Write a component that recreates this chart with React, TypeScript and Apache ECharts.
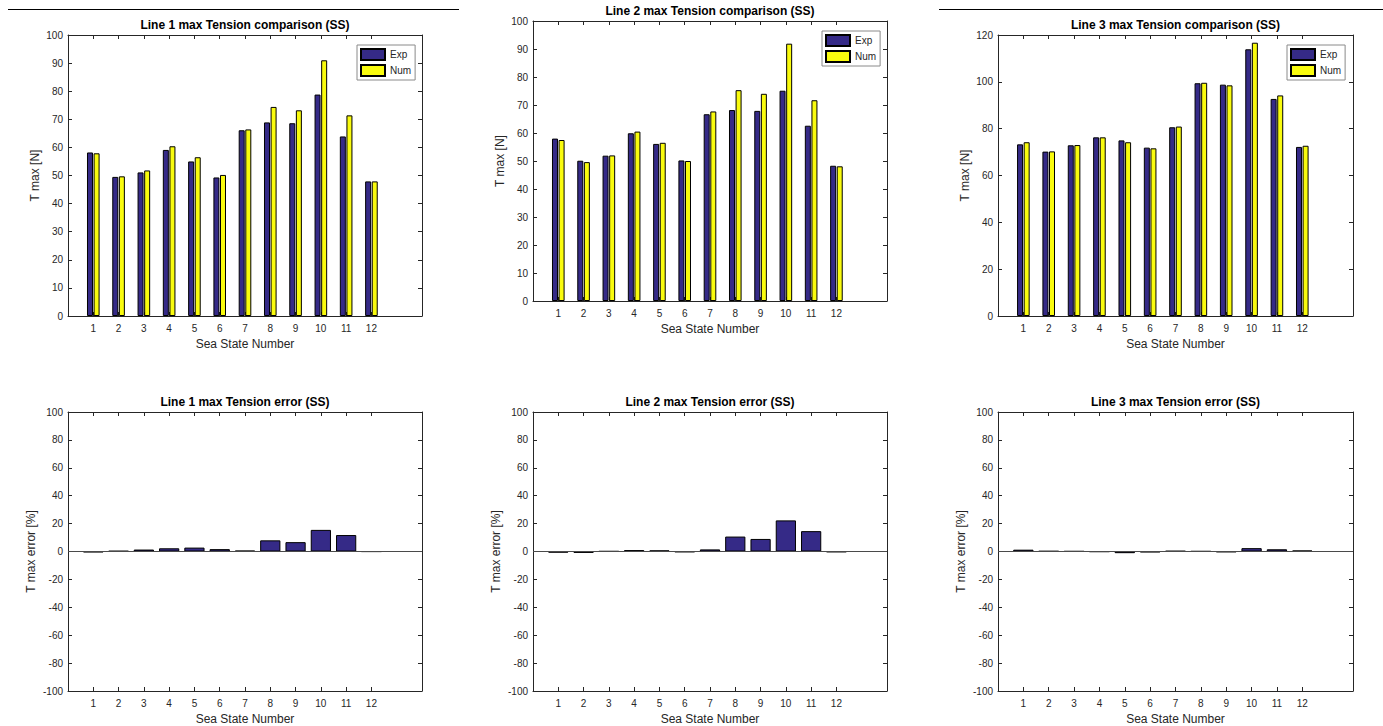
import React, { useEffect, useRef } from "react";
import * as echarts from "echarts";

// ---- data ----
const seaStates = [1, 2, 3, 4, 5, 6, 7, 8, 9, 10, 11, 12];
const seriesNames = ["Exp", "Num"];

const line1Exp = [58.2, 49.5, 51.1, 59.1, 55.0, 49.3, 66.1, 68.9, 68.6, 78.8, 63.9, 47.9];
const line1Num = [57.9, 49.7, 51.8, 60.4, 56.5, 50.2, 66.4, 74.4, 73.2, 91.0, 71.4, 47.9];
const line2Exp = [58.0, 50.1, 51.9, 59.9, 56.1, 50.2, 66.7, 68.2, 67.9, 75.1, 62.6, 48.3];
const line2Num = [57.5, 49.6, 52.0, 60.5, 56.5, 50.0, 67.7, 75.3, 74.0, 91.9, 71.7, 48.1];
const line3Exp = [73.3, 70.2, 72.9, 76.3, 75.0, 71.9, 80.6, 99.4, 98.8, 113.9, 92.7, 72.2];
const line3Num = [74.2, 70.3, 73.0, 76.3, 74.2, 71.6, 80.9, 99.6, 98.5, 116.7, 94.2, 72.7];

const line1Err = [-0.5, 0.4, 1.4, 2.3, 2.8, 1.7, 0.6, 8.0, 6.7, 15.5, 11.8, -0.1];
const line2Err = [-0.8, -1.0, 0.2, 1.0, 0.8, -0.4, 1.5, 10.7, 9.0, 22.3, 14.6, -0.4];
const line3Err = [1.3, 0.3, 0.2, -0.2, -1.2, -0.5, 0.4, 0.2, -0.4, 2.4, 1.6, 0.7];

const cmpTitles = [
  "Line 1 max Tension comparison (SS)",
  "Line 2 max Tension comparison (SS)",
  "Line 3 max Tension comparison (SS)",
];
const errTitles = [
  "Line 1 max Tension error (SS)",
  "Line 2 max Tension error (SS)",
  "Line 3 max Tension error (SS)",
];
const xTitle = "Sea State Number";
const cmpYTitle = "T max [N]";
const errYTitle = "T max error [%]";

const COL_EXP = "#352A87";
const COL_NUM = "#F9FB0E";
const FONT = '"Liberation Sans", Arial, Helvetica, sans-serif';
const AX = "#262626";

function buildOption() {
  const categories = ["", ...seaStates.map(String), "", ""];
  const shown = (i: number) => i >= 1 && i <= seaStates.length;
  const pairs = (vals: number[]) => vals.map((v, i) => [i + 1, v]);

  const panels = [
    { left: 68, top: 35, width: 354, height: 281, min: 0, max: 100, interval: 10, kind: "cmp", title: cmpTitles[0], titleY: 25, exp: line1Exp, num: line1Num, legend: { left: 357, top: 45 } },
    { left: 533, top: 21, width: 354, height: 280, min: 0, max: 100, interval: 10, kind: "cmp", title: cmpTitles[1], titleY: 11, exp: line2Exp, num: line2Num, legend: { left: 822, top: 31 } },
    { left: 998, top: 35, width: 355, height: 281, min: 0, max: 120, interval: 20, kind: "cmp", title: cmpTitles[2], titleY: 25, exp: line3Exp, num: line3Num, legend: { left: 1287, top: 45 } },
    { left: 68, top: 412, width: 354, height: 280, min: -100, max: 100, interval: 20, kind: "err", title: errTitles[0], titleY: 402, err: line1Err },
    { left: 533, top: 412, width: 354, height: 280, min: -100, max: 100, interval: 20, kind: "err", title: errTitles[1], titleY: 402, err: line2Err },
    { left: 998, top: 412, width: 355, height: 280, min: -100, max: 100, interval: 20, kind: "err", title: errTitles[2], titleY: 402, err: line3Err },
  ];

  const grid: any[] = [];
  const xAxis: any[] = [];
  const yAxis: any[] = [];
  const series: any[] = [];
  const legend: any[] = [];
  const graphic: any[] = [
    { type: "line", shape: { x1: 8, y1: 9.5, x2: 459, y2: 9.5 }, style: { stroke: "#000", lineWidth: 1.2 } },
    { type: "line", shape: { x1: 939, y1: 9.5, x2: 1383, y2: 9.5 }, style: { stroke: "#000", lineWidth: 1.2 } },
  ];

  panels.forEach((p: any, k) => {
    grid.push({ left: p.left, top: p.top, width: p.width, height: p.height, containLabel: false });
    const axisLine = { show: true, onZero: false, lineStyle: { color: AX, width: 1 } };
    xAxis.push({
      type: "category", gridIndex: k, position: "bottom", data: categories, boundaryGap: false,
      axisLine,
      axisTick: { show: true, inside: true, length: 4, interval: (i: number) => shown(i), lineStyle: { color: AX } },
      axisLabel: { interval: 0, fontSize: 10, color: AX, fontFamily: FONT, margin: 7 },
      splitLine: { show: false },
      name: xTitle, nameLocation: "middle", nameGap: 22,
      nameTextStyle: { fontSize: 12, color: AX, fontFamily: FONT },
    });
    xAxis.push({
      type: "category", gridIndex: k, position: "top", data: categories, boundaryGap: false,
      axisLine,
      axisTick: { show: true, inside: true, length: 4, interval: (i: number) => shown(i), lineStyle: { color: AX } },
      axisLabel: { show: false },
      splitLine: { show: false },
    });
    yAxis.push({
      type: "value", gridIndex: k, position: "left", min: p.min, max: p.max, interval: p.interval,
      axisLine,
      axisTick: { show: true, inside: true, length: 4, lineStyle: { color: AX } },
      axisLabel: { fontSize: 10, color: AX, fontFamily: FONT, margin: 5 },
      splitLine: { show: false },
      name: p.kind === "cmp" ? cmpYTitle : errYTitle, nameLocation: "middle",
      nameGap: p.kind === "cmp" ? 27 : 31,
      nameTextStyle: { fontSize: 12, color: AX, fontFamily: FONT },
    });
    yAxis.push({
      type: "value", gridIndex: k, position: "right", min: p.min, max: p.max, interval: p.interval,
      axisLine,
      axisTick: { show: true, inside: true, length: 4, lineStyle: { color: AX } },
      axisLabel: { show: false },
      splitLine: { show: false },
    });

    if (p.kind === "cmp") {
      series.push({
        type: "bar", name: seriesNames[0], xAxisIndex: 2 * k, yAxisIndex: 2 * k,
        data: pairs(p.exp), barWidth: 6, barGap: "10%",
        itemStyle: { color: COL_EXP, borderColor: "#000", borderWidth: 1 },
      });
      series.push({
        type: "bar", name: seriesNames[1], xAxisIndex: 2 * k, yAxisIndex: 2 * k,
        data: pairs(p.num), barWidth: 6, barGap: "10%",
        itemStyle: { color: COL_NUM, borderColor: "#000", borderWidth: 1 },
      });
      legend.push({
        data: seriesNames, orient: "vertical", left: p.legend.left, top: p.legend.top,
        itemWidth: 24, itemHeight: 11, itemGap: 3, padding: [3, 4, 3, 3],
        borderColor: "#8a8a8a", borderWidth: 1, backgroundColor: "#fff", icon: "rect",
        selectedMode: false,
        textStyle: { fontSize: 10, color: AX, fontFamily: FONT },
      });
    } else {
      series.push({
        type: "bar", name: "Error " + (k - 2), xAxisIndex: 2 * k, yAxisIndex: 2 * k,
        data: pairs(p.err), barWidth: "80%",
        itemStyle: { color: COL_EXP, borderColor: "#000", borderWidth: 1 },
        markLine: {
          silent: true, symbol: "none", label: { show: false },
          lineStyle: { color: "#4a4a4a", width: 1, type: "solid" },
          data: [{ yAxis: 0 }],
        },
      });
    }

    graphic.push({
      type: "text",
      x: p.left + p.width / 2,
      y: p.titleY,
      style: {
        text: p.title, textAlign: "center", textVerticalAlign: "middle",
        fontSize: 12, fontWeight: "bold", fontFamily: FONT, fill: "#000",
      },
    });
  });

  return {
    animation: false,
    backgroundColor: "#fff",
    grid, xAxis, yAxis, series, legend, graphic,
  };
}

export default function App() {
  const ref = useRef<HTMLDivElement>(null);
  useEffect(() => {
    if (!ref.current) return;
    const chart = echarts.init(ref.current, undefined, { renderer: "svg" });
    chart.setOption(buildOption() as any);
    return () => chart.dispose();
  }, []);
  return (
    <div
      ref={ref}
      style={{ position: "absolute", left: 0, top: 0, width: 1383, height: 726, background: "#fff" }}
    />
  );
}
